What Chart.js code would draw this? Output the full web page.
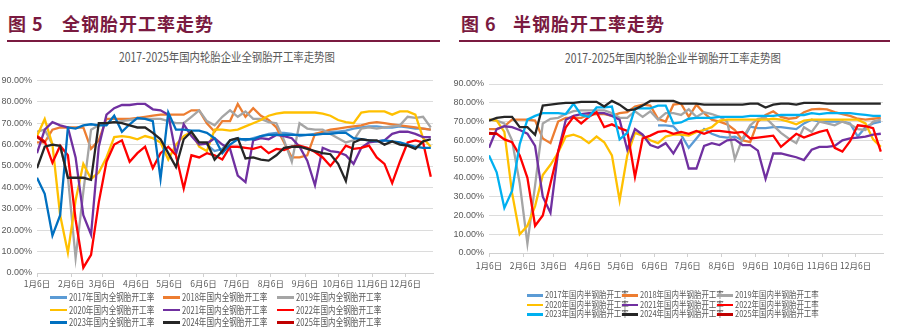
<!DOCTYPE html>
<html>
<head>
<meta charset="utf-8">
<script src="https://cdn.jsdelivr.net/npm/chart.js@4.4.1/dist/chart.umd.min.js"></script>
<style>
  body { margin: 0; width: 906px; height: 327px; background: #fff; position: relative; overflow: hidden;
         font-family: "Noto Sans CJK SC", sans-serif; }
  .hd { position: absolute; top: 12px; font-size: 18px; font-weight: 700; color: #7a1a40; line-height: 22px; letter-spacing: 1px; white-space: nowrap; }
  .rule { position: absolute; top: 40px; height: 1.5px; background: #7a1a40; }
  .ttl { position: absolute; width: 453px; text-align: center; font-size: 12.5px; line-height: 14px; color: #595959; }
  .ttl span { display: inline-block; transform: scaleX(0.83); white-space: nowrap; }
  canvas { position: absolute; }
  .lg { position: absolute; height: 12px; }
  .lg i { position: absolute; top: 5px; height: 2.5px; }
  .lg span { position: absolute; top: 0; white-space: nowrap; color: #595959; transform-origin: left center; line-height: 12px; }
</style>
</head>
<body>
<div class="hd" style="left:8px">图 5</div>
<div class="hd" style="left:62px">全钢胎开工率走势</div>
<div class="rule" style="left:7px;width:433px"></div>
<div class="hd" style="left:461px">图 6</div>
<div class="hd" style="left:513px">半钢胎开工率走势</div>
<div class="rule" style="left:459px;width:431px"></div>

<div class="ttl" style="left:0;top:50px"><span>2017-2025年国内轮胎企业全钢胎开工率走势图</span></div>
<div class="ttl" style="left:446px;top:51px"><span>2017-2025年国内轮胎企业半钢胎开工率走势图</span></div>

<canvas id="tbrChart" width="453" height="220" style="left:0;top:70px"></canvas>
<canvas id="pcrChart" width="453" height="200" style="left:453px;top:70px"></canvas>
<div id="tbrLegend"></div>
<div id="pcrLegend"></div>

<script>
// 年份 / 横轴刻度
const years = ['2017', '2018', '2019', '2020', '2021', '2022', '2023', '2024', '2025'];
const monthLabels = ['1月6日', '2月6日', '3月6日', '4月6日', '5月6日', '6月6日', '7月6日', '8月6日', '9月6日', '10月6日', '11月6日', '12月6日'];
const monthDays = [0, 31, 59, 90, 120, 151, 181, 212, 243, 273, 304, 334];
const yTicks = [0, 10, 20, 30, 40, 50, 60, 70, 80, 90];

// 全钢胎开工率 (%), 每周一个值
const tbr2017 = [null, null, null, null, null, null, null, null, null, null, null, null, null, null, null, null, null, null, null, null, null, null,
  60, 57, 58, 62, 63, 62, 63, 64, 65, 65.5, 65.5, 65, 64, 64.5, 65, 65.5, 66, 66, 66.5, 67.5, 68, 68.5, 68.5, 68, 68, 68.5, 68, 67.5, 67.5, 67];
const tbr2018 = [61, 61, 67, 68, 68, 68, 68, 58, 62, 72, 72, 72, 72, 72.5, 73, 73.5, 74, 74, 74, 74, 76, 76, 70, 66, 71, 71,
  79, 73, 77, 73.5, 71.5, 68, 61, 54, 54, 55, 65, 66, 67, 67.5, 68, 68.5, 69, 70, 70.5, 70, 69.5, 69, 68.5, 68, 67.5, 67];
const tbr2019 = [66, 67, 60, 59, 45, 7, 38, 67, 69, 70, 70.5, 71, 71.5, 72, 72, 72, 72, 71, 70, 70, 73, 76, 71, 69, 73, 76,
  73, 75.5, 72, 72, 70.5, 70, 62, 52, 70, 67.5, 67, 67, 65, 63, 61, 62, 67.5, 68, 67.5, 68, 68.5, 69, 73, 72.5, 73, 68];
const tbr2020 = [64, 72, 60, 27, 9.5, 34, 51, 44, 47, 54, 63.5, 64, 63.5, 62.5, 64, 63, 61, 53, 60, 64, 66, 59, 57, 67, 67, 66.5,
  67, 68.5, 70, 71.5, 73.5, 74.5, 75, 75, 75, 75, 75, 74.5, 73.5, 71.5, 70.5, 70, 75, 75.5, 75.5, 75.5, 74, 75.5, 75.5, 74, 63, 59];
const tbr2021 = [56, 67, 70.5, 69, 68, 54, 27, 18, 59, 74, 77, 78.5, 78.5, 79, 79, 76.5, 76, 74, 55.5, 69.5, 64, 60, 60.5, 63, 60, 58,
  45.5, 42.5, 62, 63, 62.5, 64.5, 64, 63, 59, 52.5, 41, 58.5, 57, 56.5, 55, 51, 58.5, 61, 61.5, 62, 65, 66, 66, 65, 63.5, 63.5];
const tbr2022 = [64, 61.5, 51.5, 59.5, 55, 25, 2.5, 8.5, 33, 52, 60, 62, 52, 56, 59, 49, 56, 59, 55, 39.5, 55, 54, 56, 55, 53, 59,
  59, 58.5, 58, 59, 56, 58, 57.5, 59, 59.5, 58.5, 56.5, 54, 50, 54.5, 59.5, 58, 58.5, 59.5, 54, 51, 42, 52, 61, 62, 61, 45];
const tbr2023 = [44.5, 37, 17.5, 27, 68, 67.5, 69, 69.5, 69, 69, 73.5, 66, 69.5, 72.5, 72, 71, 44, 75, 67, 67, 66.5, 66.5, 65.5, 63, 56, 60,
  62.5, 62.5, 62.5, 64, 64.5, 64.5, 64.5, 64.5, 64.5, 64.5, 64.5, 65, 65, 65.5, 65.5, 63, 62.5, 62, 61.5, 62, 61.5, 61, 60, 59, 58.5, 58.5];
const tbr2024 = [49, 59, 60, 59.5, 44.5, 44.5, 44.5, 43.5, 70, 70, 70.5, 70, 69, 68, 68, 65.5, 62.5, 56, 49.5, 62.5, 66, 61, 61, 53, 57, 62,
  63, 53.5, 54, 53, 52.5, 55, 58.5, 59, 59, 58, 57, 56, 55.5, 51, 43, 61, 62.5, 62, 62, 60, 61.5, 60, 59.5, 58, 61.5, 62.5];
const tbr2025 = [63.5, 61];

// 半钢胎开工率 (%), 每周一个值
const pcr2017 = [null, null, null, null, null, null, null, null, null, null, null, null, null, null, null, null, null, null, null, null, null, null,
  68, 68, 67.5, 63, 56, 61, 66, 63.5, 62, 61.5, 62, 60, 67.3, 66.5, 66.5, 67, 67, 66.5, 66, 69, 71, 70, 70, 70, 70, 69, 62, 67, 69, 70];
const pcr2018 = [66, 66, 67.5, 71, 71, 71, 70.5, 61, 58.5, 70, 72, 72, 72, 73.5, 74, 74, 73, 74.5, 75, 78, 79, 78.5, 71.5, 70, 79, 79.5,
  72.5, 79, 74.5, 71, 70, 68.5, 65.5, 60, 59, 70, 73.5, 75.5, 72.5, 71.5, 72, 75, 76.5, 76.8, 76.5, 75, 74, 73, 71.5, 71, 71.5, 72];
const pcr2019 = [71, 70.5, 69, 60, 37, 5, 36, 69, 71.5, 72, 74, 75.5, 76, 76, 76, 76, 74.5, 72, 72, 75.5, 72.5, 75.5, 71, 74.5, 74.5, 73.5,
  76.5, 72.5, 75, 74, 72.5, 70, 50, 61, 68, 71.5, 72, 68, 64, 61, 58.5, 67, 64.5, 70, 69, 68, 70, 68.5, 66, 65.5, 70, 71];
const pcr2020 = [71, 70.5, 64.5, 32, 10, 14.5, 25, 41.5, 47, 53.5, 62, 63, 61.5, 58.5, 62, 59, 52, 28, 52, 64, 62.5, 60, 58.5, 62, 63, 63,
  62.5, 64.5, 65.5, 67, 70.5, 71, 71, 71, 71, 71, 71, 71.5, 71, 70, 68.5, 70.5, 71, 71, 71, 71, 71, 71, 71, 69, 60.5, 56.5];
const pcr2021 = [56, 66, 67.5, 67, 65.5, 63.5, 57, 30, 21.5, 54, 71, 73, 74, 74.5, 74.5, 74.5, 73, 71, 55, 66, 63, 57.5, 56, 58.5, 53, 60,
  45, 45, 57, 58.5, 57.5, 60, 60.5, 57.5, 57.5, 54.5, 39.5, 53, 53, 52, 51, 49.5, 55, 56.5, 56.5, 57, 60, 61, 61.5, 62, 63, 63.5];
const pcr2022 = [63.5, 63.5, 60.5, 59, 52, 40, 14.5, 20, 37, 54, 67, 72.5, 69, 72.5, 75, 67, 68.5, 66.5, 65, 40.5, 61, 62.5, 64.5, 65, 63.5, 64.5,
  63.5, 65, 63.5, 65, 65, 64.5, 64, 64.5, 61, 61.5, 62, 62.5, 56.5, 60, 63.5, 61.5, 63, 64.5, 65.5, 56, 54, 59.5, 68, 67.5, 66.5, 54];
const pcr2023 = [52, 43, 24, 33, 58, 71, 73, 74.5, 74.5, 74.5, 74, 79.5, 73.5, 72.5, 77.5, 77.5, 78, 60.5, 64, 77, 77, 77, 78.5, 78.5, 69, 69.5,
  71.5, 72, 72, 72, 72.5, 72.5, 72.5, 72.5, 73, 73, 73, 73, 73.5, 73.5, 73.5, 73.5, 74.5, 74, 74.5, 74.5, 74.5, 74.5, 74, 73.5, 73, 73];
const pcr2024 = [70.5, 72, 72.5, 72.5, 67, 67, 63, 78.5, 79, 79.5, 80, 80, 80.5, 80.5, 80.5, 78, 81, 79, 76, 76.5, 78.5, 81, 81, 81, 81, 79.5,
  79.5, 79.5, 79, 79, 79, 79, 79, 79, 79.5, 79.5, 77.5, 79, 79.5, 79.5, 79, 80, 80, 80, 79.5, 79.5, 79.5, 79.5, 79.5, 79.5, 79.5, 79.5];
const pcr2025 = [64, 63.5];

const tbrSeries = [tbr2017, tbr2018, tbr2019, tbr2020, tbr2021, tbr2022, tbr2023, tbr2024, tbr2025];
const pcrSeries = [pcr2017, pcr2018, pcr2019, pcr2020, pcr2021, pcr2022, pcr2023, pcr2024, pcr2025];

const tbrColors = ['#5b9bd5', '#ed7d31', '#a5a5a5', '#ffc000', '#7030a0', '#ff0000', '#0070c0', '#262626', '#c00000'];
const pcrColors = ['#5b9bd5', '#ed7d31', '#a5a5a5', '#ffc000', '#7030a0', '#ff0000', '#00b0f0', '#262626', '#c00000'];

// 周序号 -> 距1月6日的天数
function toPoints(values) {
  return values.map((v, i) => ({ x: i * 7, y: v }));
}

function makeChart(id, series, colors, name, cfg) {
  const ctx = document.getElementById(id).getContext('2d');
  return new Chart(ctx, {
    type: 'line',
    data: {
      datasets: series.map((s, i) => ({
        label: years[i] + name,
        data: toPoints(s),
        borderColor: colors[i],
        backgroundColor: colors[i],
        borderWidth: 2.3,
        pointRadius: 0,
        tension: 0,
        spanGaps: false,
        order: series.length - i
      }))
    },
    options: {
      responsive: false,
      animation: false,
      devicePixelRatio: 1,
      layout: { padding: cfg.padding },
      plugins: { legend: { display: false }, tooltip: { enabled: false } },
      scales: {
        x: {
          type: 'linear',
          min: 0,
          max: 359,
          afterBuildTicks: (scale) => { scale.ticks = monthDays.map(d => ({ value: d })); },
          afterFit: (scale) => { scale.height = 17; },
          ticks: {
            autoSkip: false,
            maxRotation: 0,
            padding: cfg.xPad,
            color: '#595959',
            font: { family: '"Noto Sans CJK SC"', size: 8.5 },
            callback: (v) => monthLabels[monthDays.indexOf(v)]
          },
          grid: { drawOnChartArea: false, drawTicks: true, tickLength: 4, color: '#d0d0d0' },
          border: { display: true, color: '#d0d0d0' }
        },
        y: {
          min: 0,
          max: 90,
          afterBuildTicks: (scale) => { scale.ticks = yTicks.map(v => ({ value: v })); },
          afterFit: (scale) => { scale.width = cfg.yWidth; },
          ticks: {
            padding: cfg.yPad,
            color: '#595959',
            font: { family: '"Liberation Sans Narrow", "Liberation Sans", sans-serif', size: 9 },
            callback: (v) => v.toFixed(2) + '%'
          },
          grid: { color: '#dcdcdc', drawTicks: false, lineWidth: 1 },
          border: { display: false }
        }
      }
    }
  });
}

makeChart('tbrChart', tbrSeries, tbrColors, '年国内全钢胎开工率',
  { padding: { left: 0, right: 20, top: 9, bottom: 0 }, yWidth: 37, yPad: 5, xPad: 2 });
makeChart('pcrChart', pcrSeries, pcrColors, '年国内半钢胎开工率',
  { padding: { left: 0, right: 23, top: 14, bottom: 0 }, yWidth: 36, yPad: 5, xPad: 4 });

// 图例: 三列三行
function buildLegend(id, colors, name, cfg) {
  const box = document.getElementById(id);
  years.forEach((y, i) => {
    const col = i % 3, row = Math.floor(i / 3);
    const item = document.createElement('div');
    item.className = 'lg';
    item.style.left = cfg.cols[col] + 'px';
    item.style.top = (cfg.rows[row] - 6) + 'px';
    const sw = document.createElement('i');
    sw.style.left = '0px';
    sw.style.width = cfg.swatch + 'px';
    sw.style.background = colors[i];
    const tx = document.createElement('span');
    tx.textContent = y + name;
    tx.style.left = (cfg.swatch + 2) + 'px';
    tx.style.fontSize = cfg.fontSize + 'px';
    tx.style.transform = 'scaleX(' + cfg.squeeze + ')';
    item.appendChild(sw);
    item.appendChild(tx);
    box.appendChild(item);
  });
}

buildLegend('tbrLegend', tbrColors, '年国内全钢胎开工率',
  { cols: [50, 163, 277], rows: [297, 309.5, 322], swatch: 17, fontSize: 10, squeeze: 0.76 });
buildLegend('pcrLegend', pcrColors, '年国内半钢胎开工率',
  { cols: [527, 622, 717], rows: [295, 304.5, 314], swatch: 16, fontSize: 9, squeeze: 0.83 });
</script>
</body>
</html>
